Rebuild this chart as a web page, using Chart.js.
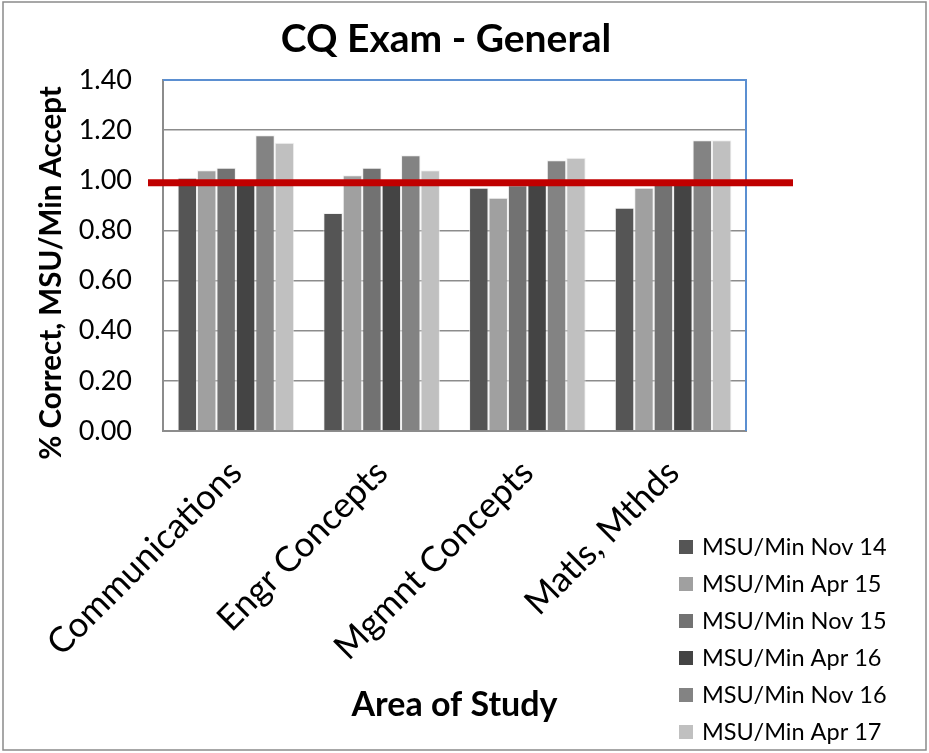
<!DOCTYPE html>
<html><head><meta charset="utf-8">
<script src="https://cdn.jsdelivr.net/npm/chart.js@4.4.1/dist/chart.umd.min.js"></script>
<style>html,body{margin:0;padding:0;background:#fff;overflow:hidden}#wrap{position:relative;width:929px;height:753px}</style>
</head><body><div id="wrap"><canvas id="c" width="929" height="753"></canvas></div>
<script>
const chartTitle = 'CQ Exam - General';
const yAxisTitle = '% Correct, MSU/Min Accept';
const xAxisTitle = 'Area of Study';
const categories = ['Communications', 'Engr Concepts', 'Mgmnt Concepts', 'Matls, Mthds'];
const seriesNames = ['MSU/Min Nov 14', 'MSU/Min Apr 15', 'MSU/Min Nov 15', 'MSU/Min Apr 16', 'MSU/Min Nov 16', 'MSU/Min Apr 17'];
const nov14 = [1.01, 0.87, 0.97, 0.89];
const apr15 = [1.04, 1.02, 0.93, 0.97];
const nov15 = [1.05, 1.05, 0.98, 1.00];
const apr16 = [1.00, 1.00, 1.00, 1.00];
const nov16 = [1.18, 1.10, 1.08, 1.16];
const apr17 = [1.15, 1.04, 1.09, 1.16];
const seriesColors = ['#555555', '#a0a0a0', '#727272', '#444444', '#838383', '#c0c0c0'];
const yTickLabels = ['0.00', '0.20', '0.40', '0.60', '0.80', '1.00', '1.20', '1.40'];
const minAcceptLevel = 0.99;

const seriesValues = [nov14, apr15, nov15, apr16, nov16, apr17];
const FONT = 'Lato, "Open Sans", sans-serif';
const GRID = '#8c8c8c';
const BLUE = '#5b8fd1';

const decorPlugin = {
  id: 'decor',
  afterDatasetsDraw(chart) {
    const {ctx, chartArea: a, scales: {y}} = chart;
    ctx.save();
    ctx.strokeStyle = BLUE; ctx.lineWidth = 2;
    ctx.beginPath();
    ctx.moveTo(a.left, a.top); ctx.lineTo(a.right, a.top); ctx.lineTo(a.right, a.bottom);
    ctx.stroke();
    const yp = y.getPixelForValue(minAcceptLevel);
    ctx.strokeStyle = '#c00000'; ctx.lineWidth = 7;
    ctx.beginPath(); ctx.moveTo(a.left - 15, yp); ctx.lineTo(a.right + 47, yp); ctx.stroke();
    ctx.restore();
  },
  afterDraw(chart) {
    const {ctx} = chart;
    ctx.save();
    ctx.strokeStyle = '#8a8a8a'; ctx.lineWidth = 1.5;
    ctx.strokeRect(3, 2, 923, 748);
    ctx.fillStyle = '#000';
    ctx.font = 'bold 39px ' + FONT;
    ctx.textAlign = 'center'; ctx.textBaseline = 'alphabetic';
    ctx.fillText(chartTitle, 446, 52);
    ctx.save();
    ctx.translate(51, 273); ctx.rotate(-Math.PI / 2);
    ctx.font = 'bold 29.5px ' + FONT; ctx.textBaseline = 'middle';
    ctx.fillText(yAxisTitle, 0, 0);
    ctx.restore();
    ctx.font = '23.5px ' + FONT; ctx.textAlign = 'left'; ctx.textBaseline = 'middle';
    chart.data.datasets.forEach((ds, i) => {
      const cy = 547 + i * 37;
      ctx.fillStyle = ds.backgroundColor;
      ctx.fillRect(679, cy - 7, 14, 14);
      ctx.fillStyle = '#000';
      ctx.fillText(ds.label, 702, cy);
    });
    ctx.restore();
  }
};

new Chart(document.getElementById('c'), {
  type: 'bar',
  data: {
    labels: categories,
    datasets: seriesNames.map((name, i) => ({
      label: name,
      data: seriesValues[i],
      backgroundColor: seriesColors[i],
      borderColor: 'rgba(235,235,235,0.7)',
      borderWidth: 1,
      barPercentage: 1.0,
      categoryPercentage: 0.8
    }))
  },
  options: {
    responsive: false,
    devicePixelRatio: 1,
    animation: false,
    layout: {padding: {left: 0, top: 80, right: 183, bottom: 28}},
    plugins: {legend: {display: false}, title: {display: false}, tooltip: {enabled: false}},
    scales: {
      x: {
        afterFit(s) { s.height = 294; },
        grid: {display: false},
        border: {display: true, color: GRID, width: 2},
        ticks: {color: '#000', font: {family: FONT, size: 35}, minRotation: 45, maxRotation: 45, autoSkip: false, padding: 13},
        title: {display: true, text: xAxisTitle, color: '#000', font: {family: FONT, size: 34, weight: 'bold'}, padding: 0}
      },
      y: {
        min: 0, max: 1.4,
        afterFit(s) { s.width = 163; },
        grid: {color: (c) => (c.tick && c.tick.value >= 1.39 ? 'rgba(0,0,0,0)' : GRID), lineWidth: 1.5, drawTicks: false},
        border: {display: true, color: GRID, width: 2},
        ticks: {stepSize: 0.2, color: '#000', font: {family: FONT, size: 27}, padding: 31,
          callback: (v, i) => yTickLabels[i]}
      }
    }
  },
  plugins: [decorPlugin]
});
</script></body></html>
